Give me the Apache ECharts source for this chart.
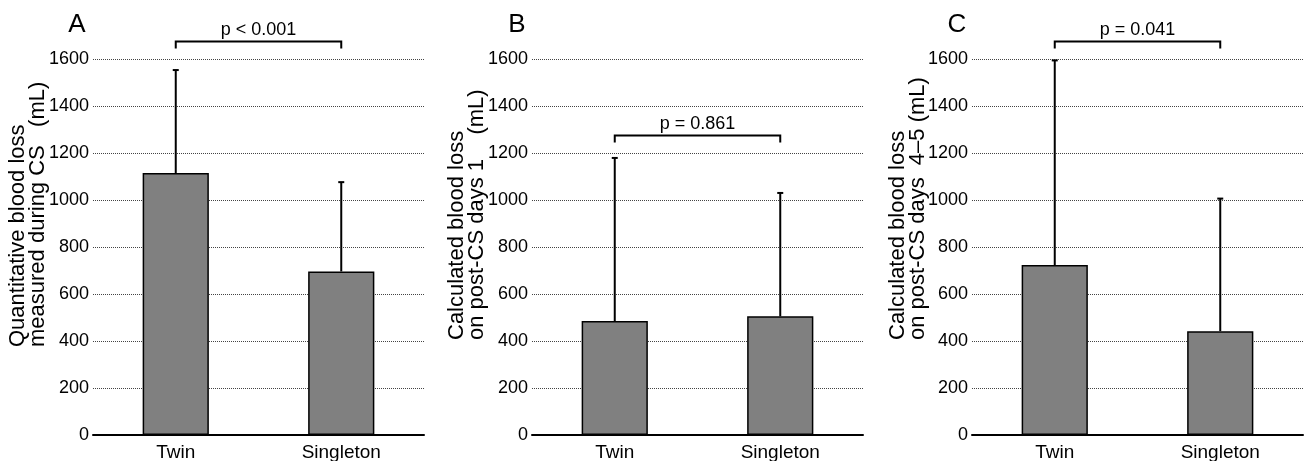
<!DOCTYPE html>
<html>
<head>
<meta charset="utf-8">
<script src="https://cdn.jsdelivr.net/npm/echarts@6/dist/echarts.min.js"></script>
<style>
  html, body { margin: 0; padding: 0; background: #fff; }
  #chart { width: 1305px; height: 461px; }
</style>
</head>
<body>
<div id="chart"></div>
<script>
// data
var categories = ['Twin', 'Singleton'];
var panelLetters = ['A', 'B', 'C'];
var yTitles = [
    'Quantitative blood loss\nmeasured during CS   (mL)',
    'Calculated blood loss\non post-CS days 1    (mL)',
    'Calculated blood loss\non post-CS days  4\u20135 (mL)'
];
var meansA = [1115, 696];
var meansB = [485, 505];
var meansC = [723, 442];
var errTopA = [1553, 1076];
var errTopB = [1179, 1030];
var errTopC = [1594, 1006];
var pLabels = ['p < 0.001', 'p = 0.861', 'p = 0.041'];
var bracketLevels = [1675, 1275, 1675];
var yTicks = [0, 200, 400, 600, 800, 1000, 1200, 1400, 1600];

var means = [meansA, meansB, meansC];
var errTops = [errTopA, errTopB, errTopC];

var font = '"Liberation Sans", Arial, sans-serif';
var dom = document.getElementById('chart');
var myChart = echarts.init(dom);

var gridLefts = [93, 532, 972];
var grids = [], xAxes = [], yAxes = [], series = [], graphics = [];

function errorBarItem(params, api) {
    var base = api.coord([api.value(0), api.value(1)]);
    var top = api.coord([api.value(0), api.value(2)]);
    return {
        type: 'group',
        children: [{
            type: 'line',
            shape: { x1: base[0], y1: base[1], x2: top[0], y2: top[1] },
            style: { stroke: '#000', lineWidth: 2 }
        }, {
            type: 'line',
            shape: { x1: top[0] - 3, y1: top[1], x2: top[0] + 3, y2: top[1] },
            style: { stroke: '#000', lineWidth: 2 }
        }]
    };
}

function bracketItem(params, api) {
    var p0 = api.coord([api.value(0), api.value(2)]);
    var p1 = api.coord([api.value(1), api.value(2)]);
    return {
        type: 'group',
        children: [{
            type: 'polyline',
            shape: { points: [[p0[0], p0[1] + 7], [p0[0], p0[1]], [p1[0], p1[1]], [p1[0], p1[1] + 7]] },
            style: { stroke: '#000', lineWidth: 2, fill: null }
        }, {
            type: 'text',
            x: (p0[0] + p1[0]) / 2,
            y: p0[1] - 2,
            style: {
                text: pLabels[api.value(3)],
                font: '18px ' + font,
                fill: '#000',
                align: 'center',
                verticalAlign: 'bottom'
            }
        }]
    };
}

for (var i = 0; i < 3; i++) {
    grids.push({ left: gridLefts[i], width: 331, top: 59, bottom: 26, outerBoundsMode: 'none', containLabel: false });
    xAxes.push({
        type: 'category',
        gridIndex: i,
        data: categories,
        axisLine: { lineStyle: { color: '#000', width: 2 } },
        axisTick: { show: false },
        axisLabel: { color: '#000', fontSize: 19, fontFamily: font, margin: 8 }
    });
    yAxes.push({
        type: 'value',
        gridIndex: i,
        min: yTicks[0],
        max: yTicks[yTicks.length - 1],
        interval: yTicks[1] - yTicks[0],
        axisLine: { show: false },
        axisTick: { show: false },
        axisLabel: {
            color: '#000', fontSize: 18, fontFamily: font, margin: 4,
            formatter: function (v) { return String(v); }
        },
        splitLine: { lineStyle: { color: '#444', type: 'dotted', width: 1 } }
    });
    series.push({
        type: 'bar',
        xAxisIndex: i,
        yAxisIndex: i,
        data: means[i],
        barWidth: '40%',
        itemStyle: { color: '#808080', borderColor: '#000', borderWidth: 1.5 },
        z: 2
    });
    series.push({
        type: 'custom',
        xAxisIndex: i,
        yAxisIndex: i,
        renderItem: errorBarItem,
        clip: false,
        z: 3,
        data: categories.map(function (c, k) { return [k, means[i][k], errTops[i][k]]; })
    });
    series.push({
        type: 'custom',
        xAxisIndex: i,
        yAxisIndex: i,
        renderItem: bracketItem,
        clip: false,
        z: 3,
        data: [[0, 1, bracketLevels[i], i]]
    });
}

// panel letters and rotated axis titles
var letterX = [77, 517, 957];
var titleX = [28, 467, 908];
var titleBottom = [347, 340, 340];
for (var j = 0; j < 3; j++) {
    graphics.push({
        type: 'text',
        x: letterX[j],
        y: 25,
        style: { text: panelLetters[j], font: '26px ' + font, fill: '#000', align: 'center', verticalAlign: 'middle' }
    });
    graphics.push({
        type: 'text',
        x: titleX[j],
        y: titleBottom[j],
        rotation: Math.PI / 2,
        style: {
            text: yTitles[j],
            font: '22px ' + font,
            lineHeight: 20,
            fill: '#000',
            align: 'left',
            verticalAlign: 'middle'
        }
    });
}

myChart.setOption({
    backgroundColor: '#fff',
    animation: false,
    grid: grids,
    xAxis: xAxes,
    yAxis: yAxes,
    series: series,
    graphic: graphics
});
</script>
</body>
</html>
